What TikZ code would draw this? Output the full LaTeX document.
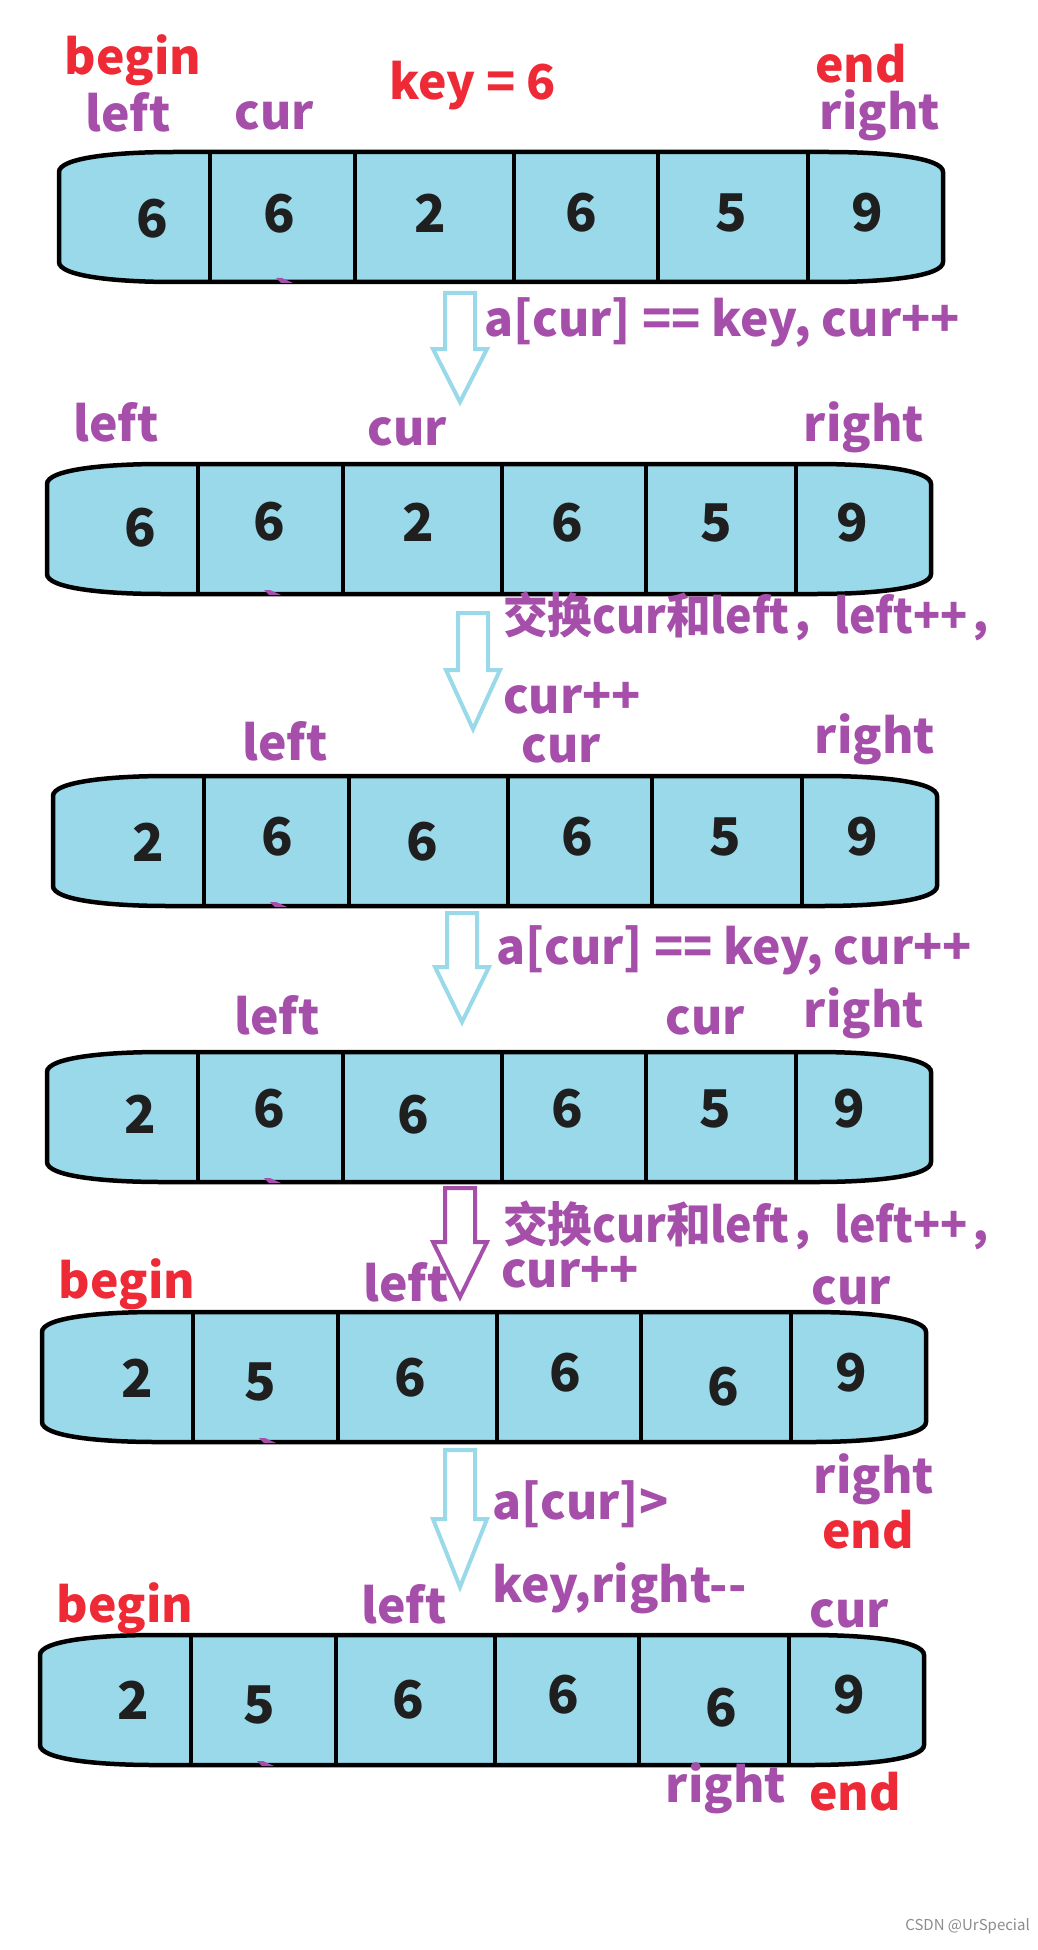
\documentclass[tikz,border=0pt]{standalone}
\usepackage{fontspec}
\setmainfont{Noto Sans CJK SC}
\definecolor{cellblue}{HTML}{99D9EA}
\definecolor{ptrpurple}{HTML}{A64FAA}
\definecolor{ptrred}{HTML}{EE2A36}
\tikzset{
  cellbox/.style={fill=cellblue, draw=black, line width=4.5pt},
  divider/.style={draw=black, line width=4pt},
  num/.style={font=\fontsize{52}{52}\selectfont\bfseries, text=black!88, inner sep=0pt},
  ptr/.style={font=\fontsize{48}{48}\selectfont\bfseries, text=ptrpurple, inner sep=0pt, anchor=base},
  bound/.style={ptr, text=ptrred},
  steptext/.style={ptr, anchor=base west},
  swaptext/.style={steptext, xscale=0.93, transform shape},
  steparrow/.style={draw=cellblue, line width=4pt},
}
% tableau : #1 = gauche, #2 = haut
\newcommand{\cellrow}[2]{%
  \begin{scope}[shift={(#1,#2)}]
    \path[cellbox] (0,20) .. controls (0,6) and (55,0) .. (115,0) -- (769,0)
      .. controls (829,0) and (884,6) .. (884,20) -- (884,110)
      .. controls (884,124) and (829,130) .. (769,130) -- (115,130)
      .. controls (55,130) and (0,124) .. (0,110) -- cycle;
    \foreach \dx in {151,296,455,599,749}
      \draw[divider] (\dx,0) -- (\dx,130);
    \fill[ptrpurple] (217,126) -- (223,126) -- (234,131) -- (222,131) -- cycle;
  \end{scope}}
% fleche creuse : #1 = x milieu, #2 = haut, #3 = base de la tete, #4 = pointe, #5 couleur
\newcommand{\steparrowat}[5]{%
  \draw[steparrow, draw=#5] ({#1-15},#2) -- ({#1+15},#2) -- ({#1+15},#3) -- ({#1+27},#3)
    -- (#1,#4) -- ({#1-27},#3) -- ({#1-15},#3) -- cycle;}
\begin{document}
\begin{tikzpicture}[x=1pt, y=-1pt]
  \useasboundingbox[fill=white] (0,0) rectangle (1037,1950);

  % Etat initial
  \cellrow{59}{152}
  \foreach \x/\y/\v [count=\i] in {152/219/6, 279/214/6, 430/213/2, 581/213/6, 731/213/5, 867/213/9}
    \node[num] (a\i) at (\x,\y) {\v};
  \node[bound] (begin1) at (133,75) {begin};
  \node[ptr] (left1) at (128,132) {left};
  \node[ptr] (cur1) at (274,130) {cur};
  \node[bound] (key) at (473,100) {key = 6};
  \node[bound] (end1) at (861,83) {end};
  \node[ptr] (right1) at (880,130) {right};

  \steparrowat{460}{293}{349}{402}{cellblue}
  \node[steptext] (step1) at (484,337) {a[cur] == key, cur++};

  % Etape 2
  \cellrow{47}{464}
  \foreach \x/\y/\v [count=\i] in {140/528/6, 269/522/6, 418/522/2, 567/523/6, 716/523/5, 852/523/9}
    \node[num] (b\i) at (\x,\y) {\v};
  \node[ptr] (left2) at (116,441) {left};
  \node[ptr] (cur2) at (407,445) {cur};
  \node[ptr] (right2) at (864,441) {right};

  \steparrowat{473}{613}{670}{729}{cellblue}
  \node[swaptext] (step2) at (503,633) {交换cur和left，left++，};
  \node[steptext] (step2b) at (503,713) {cur++};

  % Etape 3
  \cellrow{53}{776}
  \foreach \x/\y/\v [count=\i] in {148/842/2, 277/837/6, 422/842/6, 577/837/6, 725/837/5, 862/837/9}
    \node[num] (c\i) at (\x,\y) {\v};
  \node[ptr] (left3) at (285,760) {left};
  \node[ptr] (cur3) at (561,762) {cur};
  \node[ptr] (right3) at (875,753) {right};

  \steparrowat{462}{913}{967}{1022}{cellblue}
  \node[steptext] (step3) at (496,964) {a[cur] == key, cur++};

  % Etape 4
  \cellrow{47}{1052}
  \foreach \x/\y/\v [count=\i] in {140/1114/2, 269/1109/6, 413/1115/6, 567/1109/6, 715/1109/5, 849/1109/9}
    \node[num] (d\i) at (\x,\y) {\v};
  \node[ptr] (left4) at (277,1034) {left};
  \node[ptr] (cur4) at (705,1034) {cur};
  \node[ptr] (right4) at (864,1027) {right};

  \steparrowat{460}{1188}{1242}{1297}{ptrpurple}
  \node[swaptext] (step4) at (503,1242) {交换cur和left，left++，};
  \node[steptext] (step4b) at (501,1287) {cur++};

  % Etape 5
  \cellrow{42}{1312}
  \foreach \x/\y/\v [count=\i] in {137/1378/2, 260/1382/5, 410/1378/6, 565/1373/6, 723/1387/6, 851/1373/9}
    \node[num] (e\i) at (\x,\y) {\v};
  \node[bound] (begin5) at (127,1298) {begin};
  \node[ptr] (left5) at (406,1301) {left};
  \node[ptr] (cur5) at (851,1304) {cur};
  \node[ptr] (right5) at (874,1493) {right};
  \node[bound] (end5) at (868,1548) {end};

  \steparrowat{460}{1450}{1519}{1587}{cellblue}
  \node[steptext] (step5) at (492,1519) {a[cur]>};
  \node[steptext] (step5b) at (492,1602) {key,right-{}-};

  % Etat final
  \cellrow{40}{1635}
  \foreach \x/\y/\v [count=\i] in {133/1700/2, 259/1705/5, 408/1700/6, 563/1695/6, 721/1708/6, 849/1695/9}
    \node[num] (f\i) at (\x,\y) {\v};
  \node[bound] (begin6) at (125,1622) {begin};
  \node[ptr] (left6) at (404,1623) {left};
  \node[ptr] (cur6) at (849,1627) {cur};
  \node[ptr] (right6) at (726,1802) {right};
  \node[bound] (end6) at (855,1810) {end};

  \node[anchor=base east, inner sep=0pt, text=black!45, font=\fontsize{15}{15}\selectfont] (mark) at (1030,1930) {CSDN @UrSpecial};
\end{tikzpicture}
\end{document}
